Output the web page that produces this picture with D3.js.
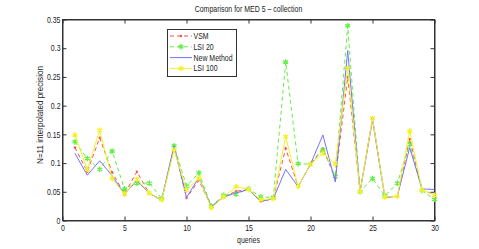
<!DOCTYPE html>
<html>
<head>
<meta charset="utf-8">
<script src="https://d3js.org/d3.v7.min.js"></script>
<style>
  body { margin: 0; background: #fff; }
  text { font-family: "Liberation Sans", Arial, sans-serif; fill: #222; }
</style>
</head>
<body>
<div id="chart"></div>
<script>
// values
var queries = d3.range(1, 31);
var vsm = [0.127, 0.085, 0.144, 0.084, 0.046, 0.085, 0.047, 0.036, 0.128, 0.039,
           0.070, 0.024, 0.041, 0.051, 0.054, 0.033, 0.038, 0.126, 0.059, 0.098,
           0.126, 0.073, 0.250, 0.050, 0.178, 0.041, 0.042, 0.142, 0.053, 0.045];
var lsi20 = [0.137, 0.108, 0.089, 0.121, 0.055, 0.065, 0.065, 0.038, 0.130, 0.060,
             0.083, 0.025, 0.044, 0.046, 0.055, 0.041, 0.040, 0.276, 0.099, 0.098,
             0.123, 0.077, 0.339, 0.050, 0.073, 0.043, 0.065, 0.133, 0.052, 0.037];
var newMethod = [0.117, 0.079, 0.104, 0.078, 0.046, 0.070, 0.047, 0.036, 0.130, 0.040,
                 0.075, 0.024, 0.041, 0.048, 0.054, 0.033, 0.038, 0.089, 0.059, 0.098,
                 0.149, 0.067, 0.296, 0.050, 0.175, 0.040, 0.042, 0.127, 0.055, 0.054];
var lsi100 = [0.149, 0.089, 0.157, 0.073, 0.046, 0.072, 0.048, 0.036, 0.123, 0.053,
              0.074, 0.022, 0.041, 0.059, 0.054, 0.036, 0.038, 0.146, 0.059, 0.098,
              0.117, 0.099, 0.265, 0.050, 0.178, 0.041, 0.042, 0.156, 0.053, 0.044];
var xTicks = [0, 5, 10, 15, 20, 25, 30];
var yTicks = [0, 0.05, 0.1, 0.15, 0.2, 0.25, 0.3, 0.35];

var series = [
  {name: "VSM", values: vsm, color: "#ff4f4f", dash: "4,3", marker: "dot"},
  {name: "LSI 20", values: lsi20, color: "#62f044", dash: "4,3", marker: "star"},
  {name: "New Method", values: newMethod, color: "#7474ff", dash: null, marker: null},
  {name: "LSI 100", values: lsi100, color: "#f2f226", dash: null, marker: "star"}
];

var W = 479, H = 249;
// plot box edges (don't call it "top", window.top is taken)
var pLeft = 62.5, pRight = 434.5, pTop = 19.5, pBottom = 220.5;
var FS = 8.5, SQ = 0.82;   // font size and horizontal squeeze (matlab's narrow helvetica)

// squeeze a text horizontally around its own anchor x
function narrow(sel) {
  sel.each(function() {
    var t = d3.select(this);
    var ax = +t.attr("x") || 0;
    t.attr("transform", (t.attr("transform") || "") +
      " translate(" + ax + ",0) scale(" + SQ + ",1) translate(" + (-ax) + ",0)");
  });
}

var svg = d3.select("#chart").append("svg")
  .attr("width", W).attr("height", H);

var x = d3.scaleLinear().domain([0, 30]).range([pLeft, pRight]);
var y = d3.scaleLinear().domain([0, 0.35]).range([pBottom, pTop]);

// box
svg.append("rect")
  .attr("x", pLeft).attr("y", pTop)
  .attr("width", pRight - pLeft).attr("height", pBottom - pTop)
  .attr("fill", "#fff").attr("stroke", "#333").attr("stroke-width", 1);

// axes, ticks pointing inward like matlab
var gx = svg.append("g").attr("transform", "translate(0," + pBottom + ")")
  .call(d3.axisBottom(x).tickValues(xTicks).tickSizeInner(-4).tickSizeOuter(0).tickPadding(4));
var gxTop = svg.append("g").attr("transform", "translate(0," + pTop + ")")
  .call(d3.axisTop(x).tickValues(xTicks).tickSizeInner(-4).tickSizeOuter(0).tickFormat(""));
var gy = svg.append("g").attr("transform", "translate(" + pLeft + ",0)")
  .call(d3.axisLeft(y).tickValues(yTicks).tickSizeInner(-4).tickSizeOuter(0).tickPadding(2)
    .tickFormat(function(d) { return String(d); }));
var gyRight = svg.append("g").attr("transform", "translate(" + pRight + ",0)")
  .call(d3.axisRight(y).tickValues(yTicks).tickSizeInner(-4).tickSizeOuter(0).tickFormat(""));

[gx, gxTop, gy, gyRight].forEach(function(g) {
  g.select(".domain").attr("stroke", "#333");
  g.selectAll(".tick line").attr("stroke", "#333");
  g.selectAll("text").attr("font-size", FS).attr("fill", "#222")
    .style("font-family", "'Liberation Sans', Arial, sans-serif")
    .call(narrow);
});

// lines
var line = d3.line()
  .x(function(d, i) { return x(queries[i]); })
  .y(function(d) { return y(d); });

var star = d3.symbol().type(d3.symbolAsterisk).size(22);

function drawMarker(g, m, color, cx, cy) {
  if (m === "dot") {
    g.append("circle").attr("cx", cx).attr("cy", cy).attr("r", 1.2).attr("fill", color);
  } else if (m === "star") {
    g.append("path").attr("d", star())
      .attr("transform", "translate(" + cx + "," + cy + ")")
      .attr("fill", "none").attr("stroke", color).attr("stroke-width", 1.3);
  }
}

series.forEach(function(s) {
  var g = svg.append("g");
  g.append("path")
    .datum(s.values)
    .attr("d", line)
    .attr("fill", "none")
    .attr("stroke", s.color)
    .attr("stroke-width", 1)
    .attr("stroke-dasharray", s.dash);
  s.values.forEach(function(v, i) {
    drawMarker(g, s.marker, s.color, x(queries[i]), y(v));
  });
});

// title and labels
svg.append("text")
  .attr("x", (pLeft + pRight) / 2).attr("y", 12)
  .attr("text-anchor", "middle").attr("font-size", FS)
  .text("Comparison for MED 5 \u2013 collection")
  .call(narrow);

svg.append("text")
  .attr("x", (pLeft + pRight) / 2).attr("y", 243)
  .attr("text-anchor", "middle").attr("font-size", FS)
  .text("queries")
  .call(narrow);

// rotated label: squeeze a little along its own length
svg.append("text")
  .attr("transform", "translate(43," + ((pTop + pBottom) / 2 - 5) + ") rotate(-90) scale(0.95,1)")
  .attr("text-anchor", "middle").attr("font-size", FS)
  .text("N=11 interpolated precision");

// legend
var lg = svg.append("g");
lg.append("rect")
  .attr("x", 167.5).attr("y", 29.5).attr("width", 69).attr("height", 47)
  .attr("fill", "#fff").attr("stroke", "#333").attr("stroke-width", 1);

series.forEach(function(s, i) {
  var ly = 36 + i * 10.8;
  lg.append("line")
    .attr("x1", 170).attr("x2", 192).attr("y1", ly).attr("y2", ly)
    .attr("stroke", s.color).attr("stroke-width", 1)
    .attr("stroke-dasharray", s.dash);
  drawMarker(lg, s.marker, s.color, 181, ly);
  lg.append("text")
    .attr("x", 193.5).attr("y", ly + 3)
    .attr("font-size", FS)
    .text(s.name)
    .call(narrow);
});
</script>
</body>
</html>
